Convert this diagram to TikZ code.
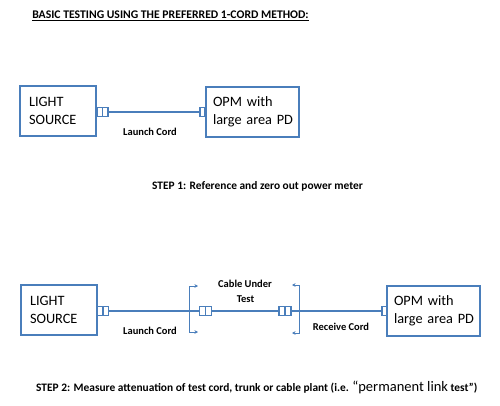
\documentclass[tikz,border=0pt]{standalone}
\usepackage{fontspec}
\setmainfont{Carlito}
\usetikzlibrary{arrows.meta}
\definecolor{lineblue}{HTML}{4A7EBB}
\begin{document}
\begin{tikzpicture}[x=1pt,y=-1pt,
  devbox/.style={draw=lineblue, line width=1.2pt, minimum width=#1, minimum height=50pt,
     inner xsep=8pt, inner ysep=0pt, align=left, text width=#1-18pt, font=\fontsize{14.3}{18.5}\selectfont, anchor=center},
  dualconn/.style={draw=lineblue, line width=1.1pt, fill=white, minimum width=11pt, minimum height=9pt, inner sep=0pt,
     path picture={\draw[lineblue, line width=1.1pt] (path picture bounding box.north) -- (path picture bounding box.south);}},
  singleconn/.style={draw=lineblue, line width=1.1pt, fill=white, minimum width=5pt, minimum height=9pt, inner sep=0pt},
  cord/.style={draw=lineblue, line width=1.6pt},
  bracket/.style={draw=lineblue, line width=0.6pt, {Stealth[length=3.5pt,width=3.5pt]}-{Stealth[length=3.5pt,width=3.5pt]}},
  lbl/.style={font=\bfseries\fontsize{10.5}{12}\selectfont, inner sep=0pt},
  steptext/.style={font=\bfseries\fontsize{11.4}{13}\selectfont, inner sep=0pt, anchor=west}
]
\useasboundingbox (0,0) rectangle (500,406);
\fill[white] (0,0) rectangle (500,406);

% title
\node[font=\bfseries\fontsize{11.7}{13}\selectfont, inner sep=0pt] (title) at (170.5,16) {\underline{BASIC TESTING USING THE PREFERRED 1-CORD METHOD:}};

% step 1
\node[devbox=76pt] (ls1) at (58,111) {\mbox{LIGHT}\\\mbox{SOURCE}};
\node[devbox=93pt, inner xsep=7pt, text width=79pt] (opm1) at (252.5,112) {\mbox{OPM with}\\\mbox{large area PD}};
\node[dualconn] (c1) at (102.5,112) {};
\node[singleconn] (c2) at (202.5,112) {};
\draw[cord] (c1.east) -- (c2.west);
\node[lbl] (launch1) at (150,132) {Launch Cord};
\node[steptext] (step1) at (152,186) {STEP 1: Reference and zero out power meter};

% step 2
\node[devbox=76pt] (ls2) at (59,310) {\mbox{LIGHT}\\\mbox{SOURCE}};
\node[devbox=93pt, inner xsep=7pt, text width=79pt] (opm2) at (433.5,311) {\mbox{OPM with}\\\mbox{large area PD}};
\node[dualconn] (c3) at (103,311) {};
\node[dualconn, minimum width=12pt] (c4) at (205.5,311) {};
\node[dualconn, minimum width=12pt] (c5) at (285,311) {};
\node[singleconn] (c6) at (384.5,311) {};
\draw[cord] (c3.east) -- (c4.west);
\draw[cord] (c4.east) -- (c5.west);
\draw[cord] (c5.east) -- (c6.west);

\coordinate (b1a) at (198,286);
\coordinate (b1t) at (189,286);
\coordinate (b1b) at (189,332);
\coordinate (b1c) at (198,332);
\draw[bracket] (b1a) -- (b1t) -- (b1b) -- (b1c);
\coordinate (b2a) at (292,285);
\coordinate (b2t) at (299,285);
\coordinate (b2b) at (299,333);
\coordinate (b2c) at (292,333);
\draw[bracket] (b2a) -- (b2t) -- (b2b) -- (b2c);

\node[lbl] (cut1) at (245,284) {Cable Under};
\node[lbl] (cut2) at (245.5,299) {Test};
\node[lbl] (launch2) at (150,331) {Launch Cord};
\node[lbl] (receive) at (341,327) {Receive Cord};
\node[steptext] (step2) at (36,387) {STEP 2: Measure attenuation of test cord, trunk or cable plant (i.e. {\mdseries\fontsize{14.5}{14.5}\selectfont “permanent link} test”)};
\end{tikzpicture}
\end{document}
